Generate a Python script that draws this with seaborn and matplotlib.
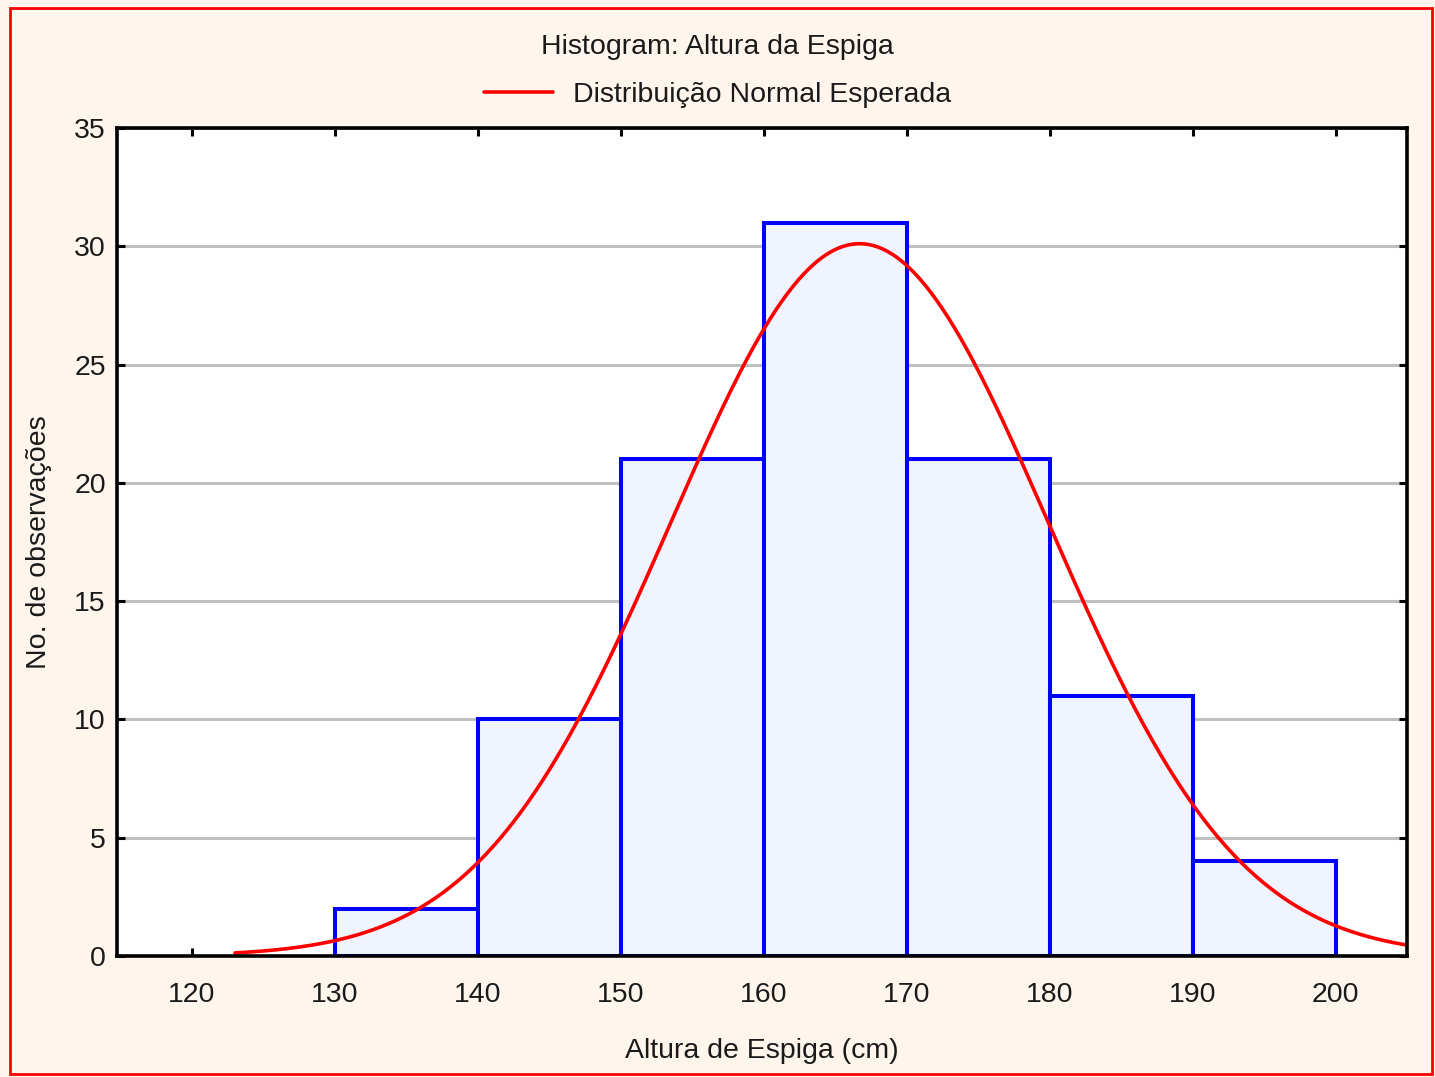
import numpy as np
import pandas as pd
import seaborn as sns
import matplotlib
matplotlib.use("Agg")
import matplotlib.pyplot as plt
from matplotlib.patches import Rectangle
from matplotlib.lines import Line2D

# ---- data ----
bin_edges = [130, 140, 150, 160, 170, 180, 190, 200]
counts = [2, 10, 21, 31, 21, 11, 4]
x_ticks = [120, 130, 140, 150, 160, 170, 180, 190, 200]
y_ticks = [0, 5, 10, 15, 20, 25, 30, 35]
fit_mean = 166.7
fit_sd = 13.25
curve_start, curve_end = 123.0, 205.0

title = "Histogram: Altura da Espiga"
legend_label = "Distribuição Normal Esperada"
xlabel = "Altura de Espiga (cm)"
ylabel = "No. de observações"

sns.set_theme(style="white")
plt.rcParams['font.family'] = ['Liberation Sans', 'DejaVu Sans']

fs = 20.5
bg = "#FEF6EC"
fig = plt.figure(figsize=(14.35, 10.77), dpi=100, facecolor=bg)
ax = fig.add_axes([117/1435, 1 - 956/1077, (1407-117)/1435, (956-128)/1077])
ax.set_facecolor("white")

centers = [(a + b) / 2 for a, b in zip(bin_edges[:-1], bin_edges[1:])]
df = pd.DataFrame({"x": centers, "n": counts})
sns.histplot(data=df, x="x", weights="n", bins=bin_edges, ax=ax,
             color="#F0F4FF", edgecolor="#0000FF", linewidth=2.9, alpha=1.0,
             zorder=2)

# expected normal counts per bin
n_total = sum(counts)
width = bin_edges[1] - bin_edges[0]
xs = np.linspace(curve_start, curve_end, 400)
ys = n_total * width * np.exp(-0.5 * ((xs - fit_mean) / fit_sd) ** 2) / (fit_sd * np.sqrt(2 * np.pi))
sns.lineplot(x=xs, y=ys, ax=ax, color="#FF0000", linewidth=2.6, zorder=4)

ax.set_xlim(114.75, 205)
ax.set_ylim(0, 35)
ax.set_xticks(x_ticks)
ax.set_yticks(y_ticks)
ax.yaxis.grid(True, color="#C0C0C0", linewidth=2.2, zorder=0)
ax.xaxis.grid(False)
ax.set_axisbelow(True)
for s in ax.spines.values():
    s.set_visible(True)
    s.set_color("black")
    s.set_linewidth(2.6)
    s.set_zorder(5)
ax.tick_params(axis="both", direction="in", length=6, width=2.2, color="black",
               labelsize=fs, labelcolor="#1a1a1a", top=True, right=True, bottom=True, left=True,
               labeltop=False, labelright=False)
ax.tick_params(axis="x", pad=19)
ax.tick_params(axis="y", pad=8)
ax.set_xlabel(xlabel, fontsize=fs, labelpad=21, color="#1a1a1a")
ax.set_ylabel(ylabel, fontsize=fs, labelpad=16, color="#1a1a1a")

fig.text(0.5, 1 - 47/1077, title, ha="center", va="center", fontsize=fs, color="#1a1a1a")
handle = Line2D([], [], color="#FF0000", linewidth=2.6)
fig.legend([handle], [legend_label], loc="center", bbox_to_anchor=(0.5, 1 - 95/1077),
           frameon=False, fontsize=fs, handlelength=2.4, handletextpad=0.7,
           labelcolor="#1a1a1a")

fig.patches.append(Rectangle((10/1435, 3/1077), 1422/1435, 1066/1077,
                             transform=fig.transFigure, fill=False,
                             edgecolor="#FF0000", linewidth=2.0))

fig.savefig("out.png", dpi=100, facecolor=bg)
